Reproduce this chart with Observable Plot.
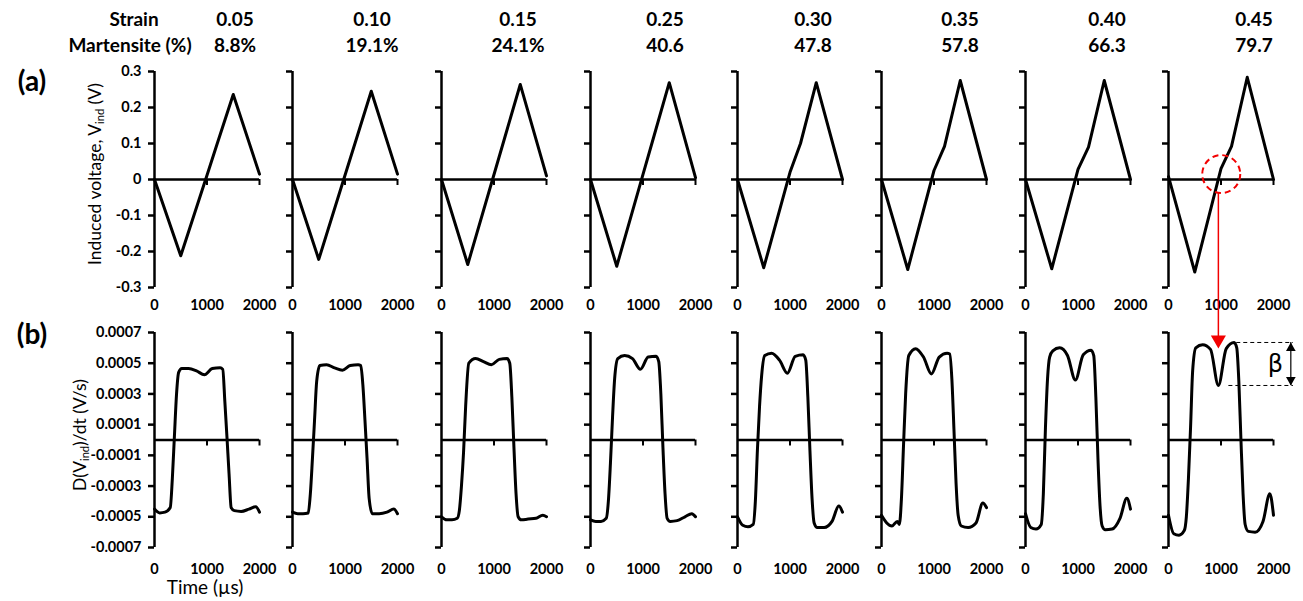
<!DOCTYPE html>
<html><head><meta charset="utf-8">
<script src="https://cdn.jsdelivr.net/npm/d3@7"></script>
<script src="https://cdn.jsdelivr.net/npm/@observablehq/plot@0.6"></script>
<style>
body{margin:0;background:#fff;}
#fig{position:relative;width:1303px;height:601px;overflow:hidden;font-family:Lato,sans-serif;color:#000;background:#fff;}
.t{position:absolute;white-space:nowrap;line-height:1;transform:translate(-50%,-50%);}
.hdr{font-weight:bold;font-size:19px;}
.ttl{font-size:17.5px;}
.ttl sub{font-size:11px;vertical-align:-3px;}
.pl{font-weight:bold;font-size:28px;}
</style></head><body><div id="fig"></div>
<script>
// ---------- data ----------
const strains = ["0.05", "0.10", "0.15", "0.25", "0.30", "0.35", "0.40", "0.45"];
const martensite = ["8.8%", "19.1%", "24.1%", "40.6", "47.8", "57.8", "66.3", "79.7"];

// (a) induced voltage (V) vs time (µs)
const timeV = [0, 500, 1000, 1200, 1500, 2000];
const voltage = [
  [0, -0.212, 0.012, 0.102, 0.236, 0.015],
  [0, -0.222, 0.012, 0.105, 0.245, 0.015],
  [0, -0.236, 0.014, 0.114, 0.264, 0.010],
  [0, -0.241, 0.014, 0.116, 0.269, 0.005],
  [0, -0.245, 0.020, 0.100, 0.269, 0.000],
  [0, -0.250, 0.025, 0.092, 0.275, 0.000],
  [0, -0.248, 0.028, 0.090, 0.275, 0.000],
  [0.008, -0.257, 0.030, 0.092, 0.284, 0.000]
];

// (b) derivative, in units of 1e-4 V/s
const timeD = [0, 100, 200, 300, 340, 380, 420, 460, 520, 650, 800, 950, 1100, 1250, 1300, 1340, 1380, 1420, 1460, 1520, 1650, 1800, 1930, 2000];
const deriv = [
  [-4.5, -4.75, -4.7, -4.4, -2.5, 0.3, 3.0, 4.4, 4.65, 4.65, 4.5, 4.25, 4.65, 4.7, 4.6, 2.5, 0.2, -2.2, -4.4, -4.6, -4.65, -4.5, -4.35, -4.7],
  [-4.7, -4.8, -4.8, -4.75, -3.5, -1.2, 1.3, 3.8, 4.85, 4.9, 4.7, 4.55, 4.85, 4.9, 4.85, 3.6, 1.3, -1.2, -3.8, -4.8, -4.8, -4.7, -4.5, -4.8],
  [-5.0, -5.2, -5.2, -5.1, -4.6, -3.0, -0.8, 2.2, 5.0, 5.3, 5.1, 4.9, 5.25, 5.3, 5.0, 2.8, -0.5, -3.5, -5.0, -5.2, -5.15, -5.1, -4.9, -5.0],
  [-5.2, -5.3, -5.3, -5.1, -4.0, -1.5, 1.5, 4.0, 5.3, 5.5, 5.3, 4.6, 5.4, 5.45, 5.1, 3.0, -0.5, -3.5, -5.1, -5.3, -5.25, -5.0, -4.8, -5.0],
  [-5.0, -5.55, -5.65, -5.5, -4.0, -0.6, 2.2, 4.2, 5.5, 5.65, 5.2, 4.35, 5.45, 5.55, 5.2, 2.8, -0.7, -3.8, -5.4, -5.7, -5.7, -5.3, -4.3, -4.7],
  [-4.9, -5.4, -5.6, -5.3, -5.5, -3.8, -0.3, 3.0, 5.5, 5.95, 5.4, 4.3, 5.4, 5.65, 5.6, 4.0, 0.7, -2.8, -4.9, -5.6, -5.7, -5.4, -4.1, -4.4],
  [-4.8, -5.7, -5.8, -5.5, -3.5, 0.8, 4.0, 5.4, 5.8, 6.0, 5.5, 3.9, 5.55, 5.85, 5.5, 2.8, -1.2, -4.3, -5.6, -5.85, -5.8, -5.1, -3.8, -4.5],
  [-4.9, -6.1, -6.2, -5.9, -5.0, -2.5, 0.8, 4.5, 6.0, 6.2, 5.9, 3.55, 5.95, 6.35, 6.0, 3.8, 0.0, -3.5, -5.5, -5.95, -6.0, -5.3, -3.5, -4.9]
];

const voltTicks = [-0.3, -0.2, -0.1, 0, 0.1, 0.2, 0.3];
const derivTicks = [-0.0007, -0.0005, -0.0003, -0.0001, 0.0001, 0.0003, 0.0005, 0.0007];
const timeTicks = [0, 1000, 2000];

// annotation anchors (data units)
const circleAt = {t: 1005, v: 0.015};
const dipTime = 950;
const arrowFromV = 0.00161;

// ---------- layout ----------
const fig = document.getElementById("fig");
const panelLeft = [154, 292, 441, 590, 737, 881, 1025, 1168];
const panelW = 105;
const mL = 70, mR = 70;
const topA = {top: 71, h: 216, mt: 10, mb: 40};
const botA = {top: 332, h: 215, mt: 150, mb: 45};
const svgStyle = "background:transparent;overflow:visible;font-family:Lato,sans-serif;font-size:14.5px;font-weight:bold;color:#000;";
const fmt = d => String(d);
const red = "#f20000";

function place(el, left, top) {
  el.style.position = "absolute";
  el.style.left = left + "px";
  el.style.top = top + "px";
  fig.appendChild(el);
}

function panel(data, yDomain, yTicks, area, i, extra, pad) {
  return Plot.plot({
    width: mL + panelW + mR,
    height: area.mt + area.h + area.mb,
    marginLeft: mL, marginRight: mR, marginTop: area.mt, marginBottom: area.mb,
    style: svgStyle,
    x: {domain: [0, 2000]},
    y: {domain: yDomain},
    marks: [
      Plot.ruleY([0], {strokeWidth: 2.5}),
      Plot.ruleX(timeTicks.slice(1), {y1: 0, y2: 0, insetBottom: -6, strokeWidth: 2}),
      Plot.ruleX([0], {strokeWidth: 2.5}),
      Plot.axisY({ticks: yTicks, tickSize: 6, tickPadding: 7, strokeWidth: 2.5, label: null, fontSize: 14.5, fontWeight: "bold",
                  tickFormat: i === 0 ? fmt : () => ""}),
      Plot.axisX({ticks: timeTicks, anchor: "bottom", tickSize: 0, tickPadding: pad, label: null, fontSize: 14.5, fontWeight: "bold", tickFormat: fmt}),
      Plot.line(data, {x: "t", y: "v", strokeWidth: 3, curve: extra.curve}),
      ...(extra.marks || [])
    ]
  });
}

strains.forEach((s, i) => {
  const vData = timeV.map((t, k) => ({t, v: voltage[i][k]}));
  const dData = timeD.map((t, k) => ({t, v: deriv[i][k] * 1e-4}));
  const last = i === strains.length - 1;

  const topMarks = last ? [
    Plot.dot([circleAt], {x: "t", y: "v", r: 19, stroke: red, strokeWidth: 2, strokeDasharray: "6,4"})
  ] : [];

  let botMarks = [];
  if (last) {
    const betaTop = d3.max(dData.filter(d => d.t > 1100 && d.t < 1350), d => d.v);
    const betaBot = d3.min(dData.filter(d => d.t > 800 && d.t < 1100), d => d.v);
    const headTip = 0.000596;
    botMarks = [
      Plot.ruleX([dipTime], {y1: arrowFromV, y2: headTip, stroke: red, strokeWidth: 1.5, insetBottom: 8}),
      Plot.dot([{t: dipTime, v: headTip}], {x: "t", y: "v", symbol: "triangle", r: 5.6, fill: red, stroke: null, rotate: 180, dy: -8.7}),
      Plot.ruleY([betaTop], {x1: 1300, x2: 2380, strokeWidth: 1, strokeDasharray: "4,3"}),
      Plot.ruleY([betaBot], {x1: 1150, x2: 2380, strokeWidth: 1, strokeDasharray: "4,3"}),
      Plot.ruleX([2330], {y1: betaTop, y2: betaBot, strokeWidth: 1.2}),
      Plot.dot([{t: 2330, v: betaTop}], {x: "t", y: "v", symbol: "triangle", r: 3.6, fill: "black", stroke: null, dy: 5.6}),
      Plot.dot([{t: 2330, v: betaBot}], {x: "t", y: "v", symbol: "triangle", r: 3.6, fill: "black", stroke: null, rotate: 180, dy: -5.6}),
      Plot.text([{t: 2035, v: (betaTop + betaBot) / 2}], {x: "t", y: "v", text: () => "β", fontSize: 24, fontWeight: "normal", fontFamily: "DejaVu Sans"})
    ];
  }

  const top = panel(vData, [-0.3, 0.3], voltTicks, topA, i, {curve: "linear", marks: topMarks}, 12);
  place(top, panelLeft[i] - mL, topA.top - topA.mt);
  const bot = panel(dData, [-0.0007, 0.0007], derivTicks, botA, i, {curve: "monotone-x", marks: botMarks}, 16);
  place(bot, panelLeft[i] - mL, botA.top - botA.mt);
});

// ---------- texts ----------
function txt(html, cls, x, y) {
  const d = document.createElement("div");
  d.className = "t " + cls;
  d.innerHTML = html;
  d.style.left = x + "px";
  d.style.top = y + "px";
  fig.appendChild(d);
  return d;
}
const hdrX = [235, 372, 518, 665, 813, 960, 1107, 1254];
txt("Strain", "hdr", 134, 18);
txt("Martensite (%)", "hdr", 130, 44);
strains.forEach((s, i) => txt(s, "hdr", hdrX[i], 18));
martensite.forEach((m, i) => txt(m, "hdr", hdrX[i], 44));
txt("(a)", "pl", 32, 80);
txt("(b)", "pl", 32, 333);
const y1 = txt("Induced voltage, V<sub>ind</sub> (V)", "ttl", 95, 174);
y1.style.transform = "translate(-50%,-50%) rotate(-90deg)";
const y2 = txt("D(V<sub>ind</sub>)/dt (V/s)", "ttl", 80, 435);
y2.style.transform = "translate(-50%,-50%) rotate(-90deg)";
txt("Time (µs)", "ttl", 205, 586).style.fontSize = "19px";
</script></body></html>
